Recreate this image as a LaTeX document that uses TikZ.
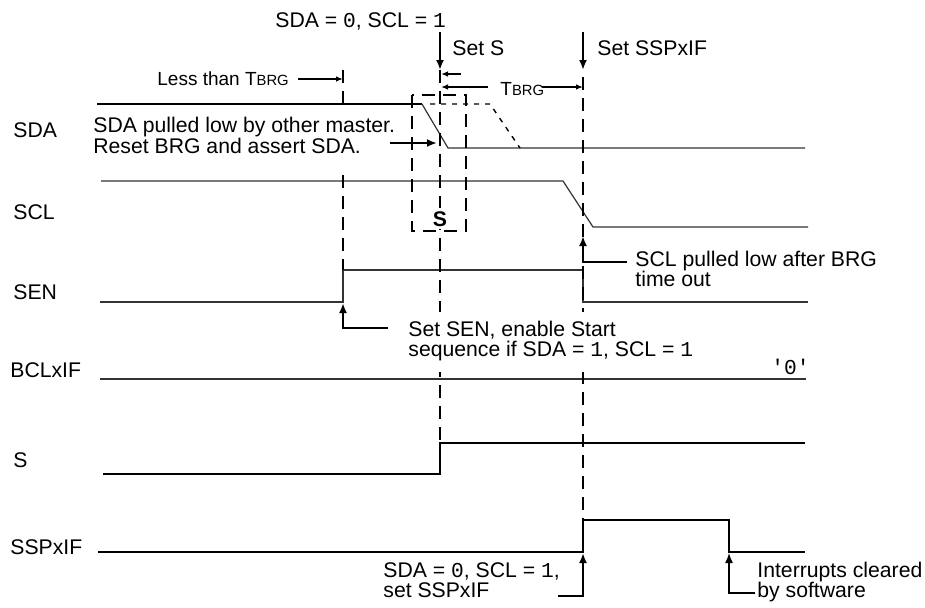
\documentclass[tikz,border=0pt]{standalone}
\usepackage{fontspec}
\setmainfont{Liberation Sans}
\newfontfamily\monof{Liberation Mono}
\usetikzlibrary{arrows.meta}
\newcommand{\zeroM}{{\monof 0}}
\newcommand{\oneM}{{\monof 1}}
\newcommand{\brgsm}{{\fontsize{7.4}{8}\selectfont BRG}}
\begin{document}
\begin{tikzpicture}[x=0.5pt,y=-0.5pt,
  lbl/.style={inner sep=0pt, anchor=base west, font=\fontsize{10.6}{12}\selectfont},
  sml/.style={lbl, font=\fontsize{9.5}{11}\selectfont},
  sigthick/.style={line width=1pt, black},
  sigthin/.style={line width=0.6pt, black!80},
  guide/.style={line width=1pt, dash pattern=on 6.5pt off 4pt},
  ghost/.style={line width=0.7pt, black, dash pattern=on 2.5pt off 3pt},
  mask/.style={fill=white, draw=none},
  ptr/.style={line width=1pt, -{Latex[length=5pt,width=4pt]}},
  dimarr/.style={line width=0.8pt, -{Latex[length=3.5pt,width=2.8pt]}}]
\useasboundingbox (0,0) rectangle (925,607);

% signal labels
\node[lbl] (lSDA) at (13,137) {SDA};
\node[lbl] (lSCL) at (13,219) {SCL};
\node[lbl] (lSEN) at (13,299) {SEN};
\node[lbl] (lBCL) at (10,377) {BCLxIF};
\node[lbl] (lS) at (13,467) {S};
\node[lbl] (lSSP) at (10,554) {SSPxIF};

% key coordinates
\coordinate (sdaA) at (97,104);
\coordinate (sdaB) at (422,104);
\coordinate (sdaC) at (448,148);
\coordinate (sdaD) at (805,148);
\coordinate (ghA) at (430,104);
\coordinate (ghB) at (490,104);
\coordinate (ghC) at (520,148);
\coordinate (sclA) at (101,181);
\coordinate (sclB) at (563,181);
\coordinate (sclC) at (593,227);
\coordinate (sclD) at (808,227);
\coordinate (senA) at (100,302);
\coordinate (senR) at (343,302);
\coordinate (senH) at (343,270);
\coordinate (senF) at (583,270);
\coordinate (senL) at (583,302);
\coordinate (senE) at (808,302);
\coordinate (bclA) at (100,379);
\coordinate (bclB) at (806,379);
\coordinate (sA) at (103,474);
\coordinate (sR) at (440,474);
\coordinate (sH) at (440,443);
\coordinate (sE) at (805,443);
\coordinate (spA) at (98,552);
\coordinate (spR) at (583,552);
\coordinate (spH) at (583,520);
\coordinate (spF) at (729,520);
\coordinate (spL) at (729,552);
\coordinate (spE) at (805,552);

% waveforms
\draw[sigthick] (sdaA) -- (sdaB);
\draw[sigthin] (sdaB) -- (sdaC) -- (sdaD);
\draw[ghost] (ghA) -- (ghB) -- (ghC);
\draw[sigthin] (sclA) -- (sclB) -- (sclC) -- (sclD);
\draw[sigthin] (senA) -- (senR) -- (senH) -- (senF) -- (senL) -- (senE);
\draw[sigthin] (bclA) -- (bclB);
\draw[sigthick] (sA) -- (sR) -- (sH) -- (sE);
\draw[sigthick] (spA) -- (spR) -- (spH) -- (spF) -- (spL) -- (spE);

% guide lines
\coordinate (g1t) at (343,70);
\coordinate (g2t) at (440,70);
\coordinate (g3t) at (583,77);
\draw[guide] (g1t) -- (senH);
\draw[guide] (g2t) -- (sH);
\draw[guide] (g3t) -- (spH);

% S box
\draw[guide] (412,95) rectangle (466,231);
\node[lbl, anchor=base, fill=white, inner sep=1.5pt] (sbox) at (440,226) {\bfseries S};

% white grounds behind the notes
\fill[mask] (90,108) rectangle (400,172);
\fill[mask] (400,312) rectangle (720,372);

% top annotations
\node[lbl] (topcond) at (275,27) {SDA = \zeroM, SCL = \oneM};
\node[lbl] (setS) at (452,55) {Set S};
\node[lbl] (setSSP) at (597,55) {Set SSPxIF};
\coordinate (aS1) at (440,32);
\coordinate (aS2) at (440,70);
\coordinate (aP1) at (583,32);
\coordinate (aP2) at (583,70);
\draw[ptr] (aS1) -- (aS2);
\draw[ptr] (aP1) -- (aP2);

\node[sml] (less) at (157,85) {Less than T\brgsm};
\coordinate (lessE) at (298,79);
\coordinate (lessT) at (343,79);
\draw[dimarr] (lessE) -- (lessT);

\coordinate (smA) at (461,74);
\coordinate (smT) at (441,74);
\draw[dimarr] (smA) -- (smT);

\node[sml] (tbrg) at (500,95) {T\brgsm};
\coordinate (tbL) at (488,87);
\coordinate (tbLt) at (441,87);
\coordinate (tbR) at (542,87);
\coordinate (tbRt) at (583,87);
\draw[dimarr] (tbL) -- (tbLt);
\draw[dimarr] (tbR) -- (tbRt);

% SDA note
\node[lbl] (sdan1) at (93,132) {SDA pulled low by other master.};
\node[lbl] (sdan2) at (93,153) {Reset BRG and assert SDA.};
\coordinate (sdnA) at (390,143);
\coordinate (sdnT) at (437,143);
\draw[ptr] (sdnA) -- (sdnT);

% SCL note
\node[lbl] (scln1) at (635,266) {SCL pulled low after BRG};
\node[lbl] (scln2) at (635,286) {time out};
\coordinate (sclnA) at (627,262);
\coordinate (sclnM) at (583,262);
\coordinate (sclnT) at (583,236);
\draw[ptr] (sclnA) -- (sclnM) -- (sclnT);

% SEN note
\node[lbl] (senn1) at (408,336) {Set SEN, enable Start};
\node[lbl] (senn2) at (408,356) {sequence if SDA = \oneM, SCL = \oneM};
\coordinate (sennA) at (388,328);
\coordinate (sennM) at (343,328);
\coordinate (sennT) at (343,303);
\draw[ptr] (sennA) -- (sennM) -- (sennT);

% BCLxIF value
\node[lbl, anchor=base east, font=\fontsize{10.6}{12}\monof] (zero) at (810,374) {'0'};

% SSPxIF notes
\node[lbl] (sspn1) at (383,577) {SDA = \zeroM, SCL = \oneM,};
\node[lbl] (sspn2) at (383,597) {set SSPxIF};
\coordinate (sspnA) at (558,596);
\coordinate (sspnM) at (583,596);
\coordinate (sspnT) at (583,553);
\draw[ptr] (sspnA) -- (sspnM) -- (sspnT);

\node[lbl] (intn1) at (757,577) {Interrupts cleared};
\node[lbl] (intn2) at (757,597) {by software};
\coordinate (intA) at (755,593);
\coordinate (intM) at (729,593);
\coordinate (intT) at (729,553);
\draw[ptr, line width=0.7pt] (intA) -- (intM) -- (intT);
\end{tikzpicture}
\end{document}
